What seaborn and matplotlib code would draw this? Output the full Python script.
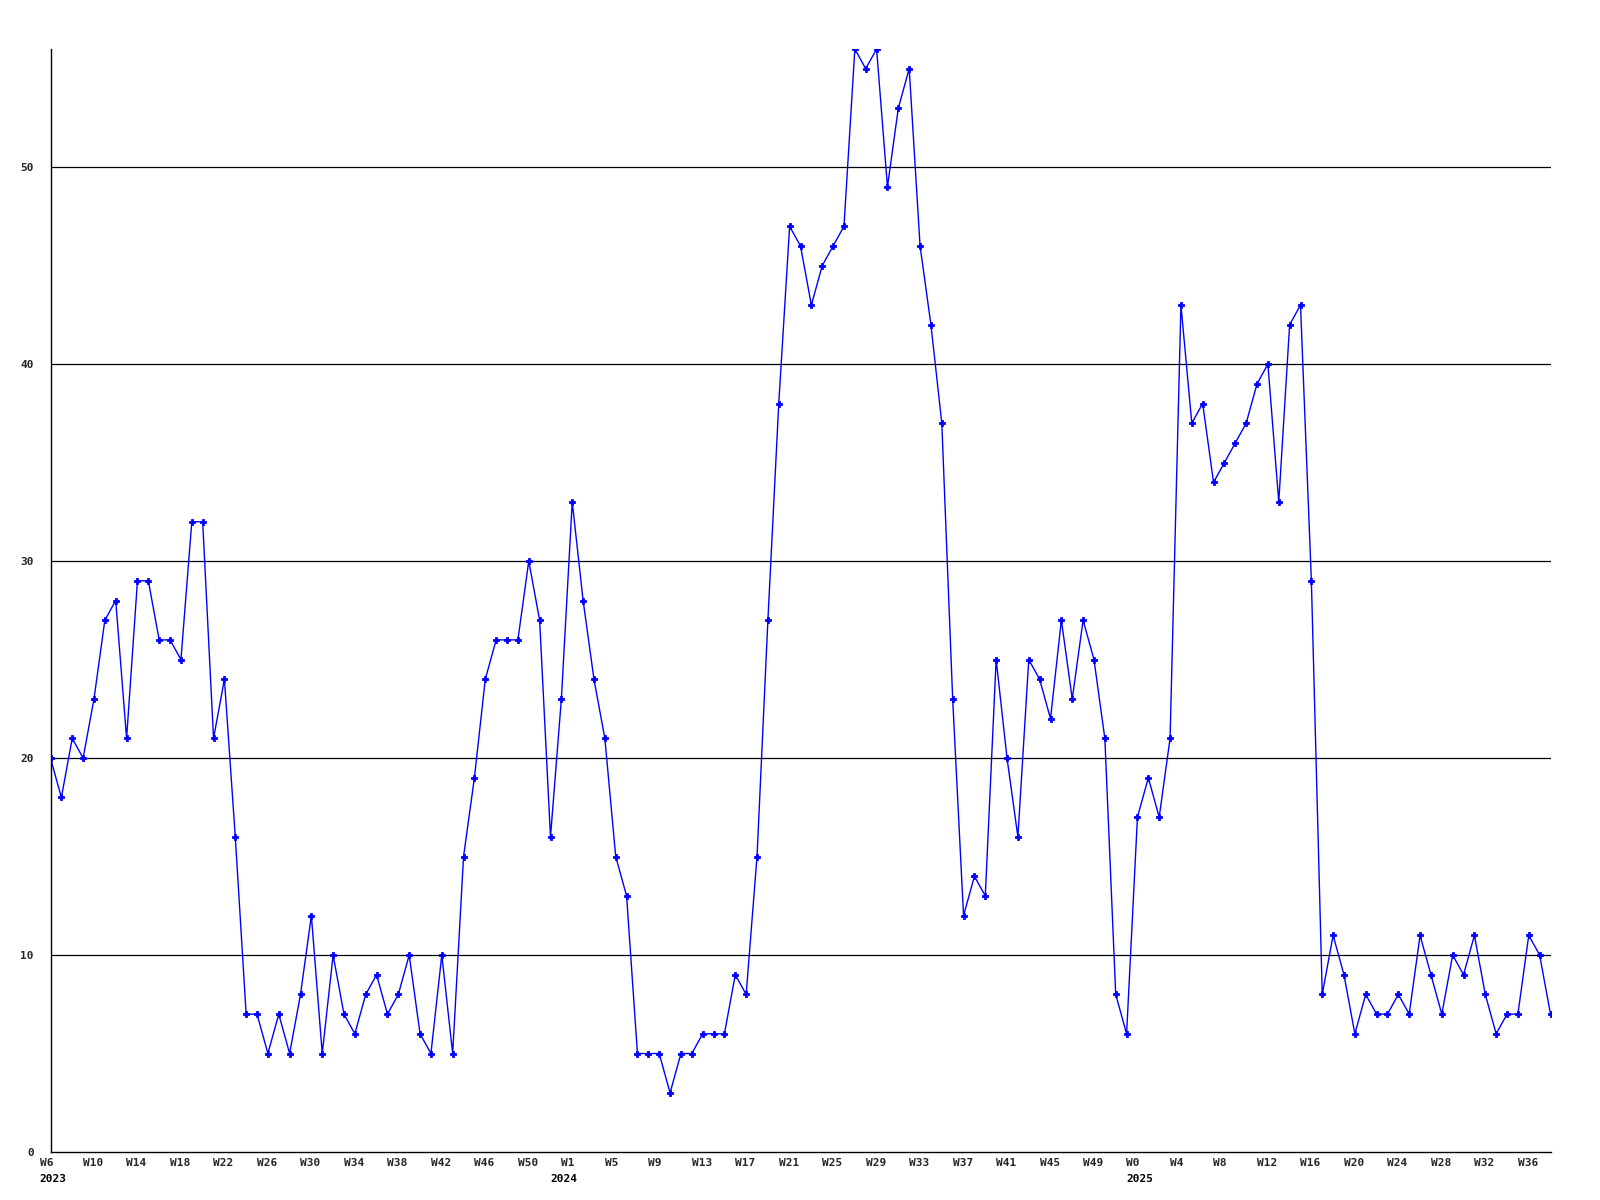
import matplotlib
matplotlib.use("Agg")
import matplotlib.pyplot as plt
import matplotlib.transforms as mtransforms
import seaborn as sns
import pandas as pd
import numpy as np

# ---- data ----
values = [
    20, 18, 21, 20, 23, 27, 28, 21, 29, 29, 26, 26, 25, 32, 32, 21, 24, 16, 7, 7,
    5, 7, 5, 8, 12, 5, 10, 7, 6, 8, 9, 7, 8, 10, 6, 5, 10, 5, 15, 19,
    24, 26, 26, 26, 30, 27, 16, 23, 33, 28, 24, 21, 15, 13, 5, 5, 5, 3, 5, 5,
    6, 6, 6, 9, 8, 15, 27, 38, 47, 46, 43, 45, 46, 47, 56, 55, 56, 49, 53, 55,
    46, 42, 37, 23, 12, 14, 13, 25, 20, 16, 25, 24, 22, 27, 23, 27, 25, 21, 8, 6,
    17, 19, 17, 21, 43, 37, 38, 34, 35, 36, 37, 39, 40, 33, 42, 43, 29, 8, 11, 9,
    6, 8, 7, 7, 8, 7, 11, 9, 7, 10, 9, 11, 8, 6, 7, 7, 11, 10, 7,
]
tick_index = [0, 4, 8, 12, 16, 20, 24, 28, 32, 36, 40, 44,
              48, 52, 56, 60, 64, 68, 72, 76, 80, 84, 88, 92, 96,
              100, 104, 108, 112, 116, 120, 124, 128, 132, 136]
tick_labels = ["W6", "W10", "W14", "W18", "W22", "W26", "W30", "W34", "W38", "W42", "W46", "W50",
               "W1", "W5", "W9", "W13", "W17", "W21", "W25", "W29", "W33", "W37", "W41", "W45", "W49",
               "W0", "W4", "W8", "W12", "W16", "W20", "W24", "W28", "W32", "W36"]
year_index = [0, 47, 100]
year_labels = ["2023", "2024", "2025"]
y_ticks = [0, 10, 20, 30, 40, 50]

df = pd.DataFrame({"idx": np.arange(len(values)), "value": values})

sns.set_style("white")
plt.rcParams["font.family"] = ["DejaVu Sans Mono", "DejaVu Sans"]
plt.rcParams["font.weight"] = "bold"

fig = plt.figure(figsize=(16, 12), dpi=100)
ax = fig.add_axes([50.5 / 1600, 48 / 1200, 1500 / 1600, 1103 / 1200])

sns.lineplot(data=df, x="idx", y="value", ax=ax, color="#0000ff", linewidth=1.0,
             marker="P", markersize=4, markeredgewidth=0.6,
             markerfacecolor="#0000ff", markeredgecolor="#0000ff")

ax.set_xlim(0, len(values) - 1)
ax.set_ylim(0, 56)
ax.set_xlabel("")
ax.set_ylabel("")

for v in y_ticks[1:]:
    ax.axhline(v, color="black", linewidth=0.9, zorder=1)

ax.set_yticks(y_ticks)
ax.set_yticklabels([str(v) for v in y_ticks], fontsize=8, fontweight="bold")
ax.tick_params(axis="y", length=0, pad=12)

ax.set_xticks(tick_index)
ax.set_xticklabels(tick_labels, fontsize=8, fontweight="bold", ha="left")
ax.tick_params(axis="x", length=0, pad=4)
shift = mtransforms.ScaledTranslation(-11 / 100, 0, fig.dpi_scale_trans)
for lbl in ax.get_xticklabels():
    lbl.set_transform(lbl.get_transform() + shift)

blend = mtransforms.blended_transform_factory(ax.transData, ax.transAxes)
ydown = mtransforms.ScaledTranslation(-11 / 100, -22 / 100, fig.dpi_scale_trans)
for xi, yl in zip(year_index, year_labels):
    ax.text(xi, 0, yl, transform=blend + ydown, ha="left", va="top",
            fontsize=8, fontweight="bold", color="black")

for side in ["top", "right"]:
    ax.spines[side].set_visible(False)
for side in ["left", "bottom"]:
    ax.spines[side].set_color("black")
    ax.spines[side].set_linewidth(1.0)

fig.savefig("out.png", dpi=100, facecolor="white")
